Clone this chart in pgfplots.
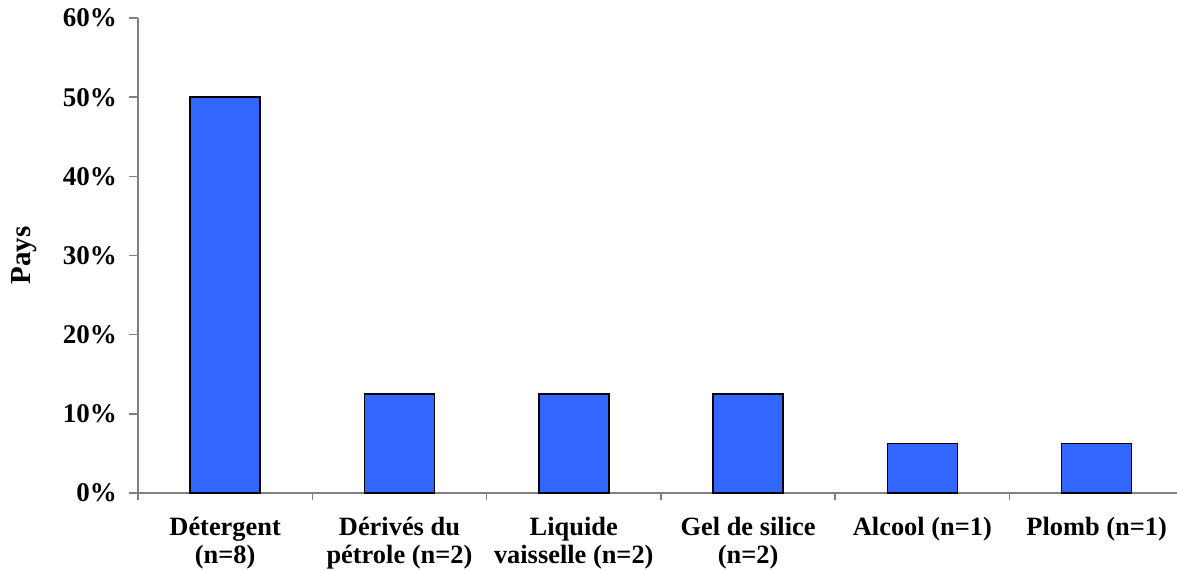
\documentclass[border=0pt]{standalone}
\usepackage{fontspec}
\setmainfont{Liberation Serif}
\usepackage{pgfplots}
\pgfplotsset{compat=1.18}
\definecolor{barblue}{HTML}{3366FF}
\definecolor{axgray}{HTML}{808080}
\begin{document}
\begin{tikzpicture}
\begin{axis}[
  name=ax,
  scale only axis,
  x=87.15pt, y=3.958pt,
  xmin=-0.5, xmax=5.461, ymin=0, ymax=60,
  axis lines*=left,
  axis line style={axgray, line width=0.8pt},
  every tick/.style={axgray, line width=0.8pt},
  tick align=outside,
  xtick={0,1,2,3,4,5},
  major x tick style={draw=none},
  minor xtick={-0.5,0.5,1.5,2.5,3.5,4.5},
  minor x tick style={axgray, line width=0.8pt},
  minor tick length=3.5pt,
  ytick={0,10,20,30,40,50,60},
  major tick length=4.5pt,
  yticklabels={0\%,10\%,20\%,30\%,40\%,50\%,60\%},
  xticklabels={{Détergent\\[0.5pt](n=8)},{Dérivés du\\[0.5pt]pétrole (n=2)},{Liquide\\[0.5pt]vaisselle (n=2)},{Gel de silice\\[0.5pt](n=2)},{Alcool (n=1)},{Plomb (n=1)}},
  xticklabel style={align=center, anchor=north, font=\fontsize{13.2}{13.5}\selectfont\bfseries, yshift=-4pt},
  yticklabel style={anchor=east, xshift=-2.5pt, font=\fontsize{13.5}{13.5}\selectfont\bfseries},
  ylabel={Pays},
  every axis y label/.style={at={(axis description cs:0,0.5)}, xshift=-57pt, rotate=90, anchor=center, font=\fontsize{14.5}{14.5}\selectfont\bfseries},
  clip=false,
]
\addplot[ybar, bar width=35pt, fill=barblue, draw=black, line width=0.8pt] coordinates {(0,50) (1,12.5) (2,12.5) (3,12.5) (4,6.25) (5,6.25)};
\end{axis}
\pgfresetboundingbox
\path ([shift={(-69pt,-38.5pt)}]ax.south west) rectangle ([shift={(519.5pt,246.5pt)}]ax.south west);
\end{tikzpicture}
\end{document}
